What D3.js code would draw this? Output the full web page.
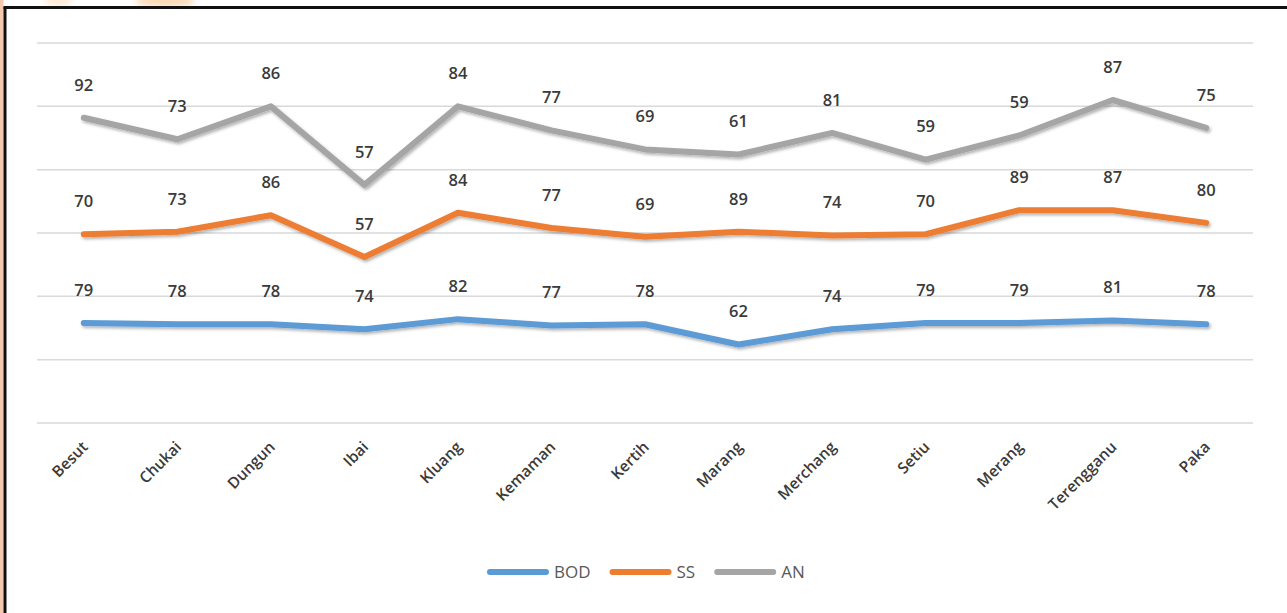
<!DOCTYPE html>
<html>
<head>
<meta charset="utf-8">
<script src="https://cdn.jsdelivr.net/npm/d3@7"></script>
<style>
  html, body { margin: 0; padding: 0; background: #fff; }
  svg { display: block; font-family: "Open Sans", "Noto Sans", sans-serif; }
</style>
</head>
<body>
<svg id="chart" width="1287" height="613"></svg>
<script>
  // data
  const stations = ['Besut', 'Chukai', 'Dungun', 'Ibai', 'Kluang', 'Kemaman', 'Kertih',
    'Marang', 'Merchang', 'Setiu', 'Merang', 'Terengganu', 'Paka']
  const bod = [79, 78, 78, 74, 82, 77, 78, 62, 74, 79, 79, 81, 78]
  const ss = [70, 73, 86, 57, 84, 77, 69, 89, 74, 70, 89, 87, 80]
  const an = [92, 73, 86, 57, 84, 77, 69, 61, 81, 59, 59, 87, 75]
  const seriesNames = ['BOD', 'SS', 'AN']
  const seriesColors = ['#5B9BD5', '#ED7D31', '#A5A5A5']
  const yTicks = [0, 50, 100, 150, 200, 250, 300]

  const W = 1287, H = 613
  const plot = { left: 37, right: 1253, top: 43, bottom: 423 }

  const svg = d3.select('#chart')
  const defs = svg.append('defs')

  // soft blur for the scanned page edge
  defs.append('filter').attr('id', 'soft')
    .append('feGaussianBlur').attr('stdDeviation', 3)

  const f = defs.append('filter').attr('id', 'shadow').attr('x', '-5%').attr('y', '-20%').attr('width', '110%').attr('height', '150%')
  f.append('feDropShadow').attr('dx', 1.5).attr('dy', 2).attr('stdDeviation', 1.5)
    .attr('flood-color', '#000').attr('flood-opacity', 0.3)

  // page frame (scanned look)
  svg.append('rect').attr('x', 0).attr('y', 0).attr('width', 3.5).attr('height', H).attr('fill', '#f4c9ae')
  svg.append('ellipse').attr('cx', 165).attr('cy', 1).attr('rx', 30).attr('ry', 6).attr('fill', '#f9d9b4').attr('filter', 'url(#soft)')
  svg.append('ellipse').attr('cx', 58).attr('cy', 1).attr('rx', 14).attr('ry', 5).attr('fill', '#fce8d4').attr('filter', 'url(#soft)')
  svg.append('line').attr('x1', 5).attr('x2', 5).attr('y1', 7).attr('y2', H).attr('stroke', '#111').attr('stroke-width', 3)
  svg.append('line').attr('x1', 3.5).attr('x2', W).attr('y1', 7.5).attr('y2', 7.5).attr('stroke', '#111').attr('stroke-width', 3)

  // scales
  const x = d3.scaleBand().domain(stations).range([plot.left, plot.right])
  const y = d3.scaleLinear().domain([0, 300]).range([plot.bottom, plot.top])
  const cx = d => x(d) + x.bandwidth() / 2

  // grid
  svg.append('g').selectAll('line').data(yTicks).join('line')
    .attr('x1', plot.left).attr('x2', plot.right)
    .attr('y1', d => y(d)).attr('y2', d => y(d))
    .attr('stroke', '#d9d9d9').attr('stroke-width', 1.5)

  // stacked series
  const rows = stations.map((s, i) => ({ name: s, BOD: bod[i], SS: ss[i], AN: an[i] }))
  const stacked = d3.stack().keys(seriesNames)(rows)

  const line = d3.line()
    .x((d, i) => cx(stations[i]))
    .y(d => y(d[1]))

  const g = svg.append('g')
  stacked.forEach((layer, k) => {
    g.append('path')
      .datum(layer)
      .attr('d', line)
      .attr('fill', 'none')
      .attr('stroke', seriesColors[k])
      .attr('stroke-width', 6)
      .attr('stroke-linejoin', 'round')
      .attr('stroke-linecap', 'round')
      .attr('filter', 'url(#shadow)')
  })

  // data labels (own values, above stacked point)
  stacked.forEach((layer, k) => {
    g.append('g').selectAll('text').data(layer).join('text')
      .attr('x', (d, i) => cx(stations[i]))
      .attr('y', d => y(d[1]) - 33)
      .attr('dy', '0.35em')
      .attr('text-anchor', 'middle')
      .attr('font-size', 16.5)
      .attr('font-weight', 600)
      .attr('fill', '#3a3a3a')
      .text(d => d[1] - d[0])
  })

  // x axis labels
  svg.append('g').selectAll('text').data(stations).join('text')
    .attr('transform', d => `translate(${cx(d) + 5},${plot.bottom + 25}) rotate(-45)`)
    .attr('text-anchor', 'end')
    .attr('font-size', 15.5)
    .attr('font-weight', 600)
    .attr('fill', '#3a3a3a')
    .text(d => d)

  // legend
  const legend = svg.append('g')
  let lx = 490
  seriesNames.forEach((name, k) => {
    const item = legend.append('g').attr('transform', `translate(${lx},572)`)
    item.append('line').attr('x1', 0).attr('x2', 56).attr('y1', 0).attr('y2', 0)
      .attr('stroke', seriesColors[k]).attr('stroke-width', 6).attr('stroke-linecap', 'round')
    const t = item.append('text').attr('x', 64).attr('dy', '0.35em')
      .attr('font-size', 17).attr('fill', '#595959').text(name)
    lx += 64 + t.node().getComputedTextLength() + 22
  })
</script>
</body>
</html>
